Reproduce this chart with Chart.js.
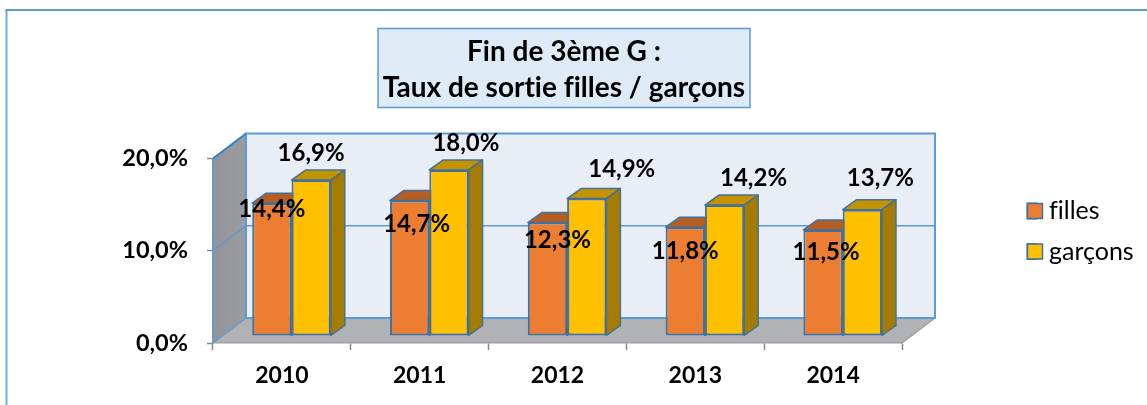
<!DOCTYPE html>
<html>
<head>
<meta charset="utf-8">
<style>
  html, body { margin: 0; padding: 0; background: #fff; }
  canvas { display: block; }
</style>
<script src="https://cdn.jsdelivr.net/npm/chart.js@4"></script>
</head>
<body>
<canvas id="chart" width="1147" height="405"></canvas>
<script>
const years = ["2010", "2011", "2012", "2013", "2014"];
const filles = [14.4, 14.7, 12.3, 11.8, 11.5];
const garcons = [16.9, 18.0, 14.9, 14.2, 13.7];
const yTicks = [0, 10, 20];
const titleLines = ["Fin de 3ème G :", "Taux de sortie filles / garçons"];

// label nudges from bar centre / bar top, the source chart had them hand placed
const fillesNudge = [[0, 6], [7, 24], [10, 18], [0, 24], [3, 22]];
const garconsNudge = [[0, -27], [17, -27], [35, -29], [29, -27], [18, -31]];

const FONT = "Lato, 'Open Sans', sans-serif";
const BLUE = "#5b9bd5";
const STROKE = "#41719c";
const wall = { dx: 33, dy: 25 };
const barShift = { dx: 9.6, dy: 7 };
const barDepth = { dx: 14, dy: 10 };
const faces = [
  { top: "#b55e24", side: "#a15a22" },
  { top: "#c49300", side: "#a67c00" },
];

const fmt = (v) => v.toFixed(1).replace(".", ",") + "%";

const poly = (ctx, pts, fill, stroke, lw) => {
  ctx.beginPath();
  pts.forEach((p, i) => (i ? ctx.lineTo(p[0], p[1]) : ctx.moveTo(p[0], p[1])));
  ctx.closePath();
  if (fill) {
    ctx.fillStyle = fill;
    ctx.fill();
  }
  if (stroke) {
    ctx.strokeStyle = stroke;
    ctx.lineWidth = lw || 1;
    ctx.stroke();
  }
};

const line = (ctx, x1, y1, x2, y2, color, lw) => {
  ctx.beginPath();
  ctx.moveTo(x1, y1);
  ctx.lineTo(x2, y2);
  ctx.strokeStyle = color;
  ctx.lineWidth = lw;
  ctx.stroke();
};

const scene3d = {
  id: "scene3d",
  beforeLayout(chart) {
    // keep the empty gap between plot and legend
    const legend = chart.legend;
    if (!legend._wideFit) {
      const fit = legend.fit;
      legend.fit = function () {
        fit.call(this);
        this.width = 245;
      };
      legend._wideFit = true;
    }
  },
  afterLayout(chart) {
    chart.legend.left = 1012;
    chart.legend.top = 166.75;
    chart.legend.bottom = 405 - 109.25;
    chart.titleBlock.right = 1128;
  },
  beforeDraw(chart) {
    const { ctx, chartArea: a, scales } = chart;
    const yTop = a.top;
    const yBot = a.bottom;
    const y10 = scales.y.getPixelForValue(10);
    ctx.textRendering = "optimizeSpeed";
    ctx.save();

    // frame, only top and left show in the crop
    line(ctx, 6.5, 405, 6.5, 10, "#6aaee6", 2);
    line(ctx, 5.5, 10, 1147, 10, BLUE, 2);

    // title box
    const tb = chart.titleBlock;
    const cx = tb.left + (tb.right - tb.left) / 2;
    ctx.fillStyle = "#deeaf6";
    ctx.fillRect(cx - 186, 28.5, 372, 79);
    ctx.strokeStyle = BLUE;
    ctx.lineWidth = 1.5;
    ctx.strokeRect(cx - 186, 28.5, 372, 79);

    // floor
    poly(ctx, [[a.left, yBot], [a.left + wall.dx, yBot - wall.dy], [a.right + wall.dx, yBot - wall.dy], [a.right, yBot]], "#b0b2b5");
    line(ctx, a.right, yBot, a.right + wall.dx, yBot - wall.dy, "#a0a0a0", 1.5);

    // side wall
    const g = ctx.createLinearGradient(a.left, 0, a.left + wall.dx, 0);
    g.addColorStop(0, "#939498");
    g.addColorStop(1, "#9b9c9f");
    poly(ctx, [[a.left, yTop], [a.left + wall.dx, yTop - wall.dy], [a.left + wall.dx, yBot - wall.dy], [a.left, yBot]], g);

    // back wall
    poly(ctx, [[a.left + wall.dx, yTop - wall.dy], [a.right + wall.dx, yTop - wall.dy], [a.right + wall.dx, yBot - wall.dy], [a.left + wall.dx, yBot - wall.dy]], "#e8edf6", BLUE, 2);

    // gridlines bent around the walls
    line(ctx, a.left, y10, a.left + wall.dx, y10 - wall.dy, BLUE, 1.5);
    line(ctx, a.left + wall.dx, y10 - wall.dy, a.right + wall.dx, y10 - wall.dy, BLUE, 1.5);
    line(ctx, a.left, yTop, a.left + wall.dx, yTop - wall.dy, "#2e84cc", 2);
    line(ctx, a.left, yBot, a.left + wall.dx, yBot - wall.dy, BLUE, 1.5);
    ctx.restore();
  },
  beforeDatasetsDraw(chart) {
    const { ctx } = chart;
    ctx.save();
    ctx.lineJoin = "round";
    // filles first so the garçons front hides their side face
    [0, 1].forEach((ds) => {
      const face = faces[ds];
      chart.getDatasetMeta(ds).data.forEach((bar) => {
        const half = bar.width / 2;
        const l = bar.x - half + barShift.dx;
        const r = bar.x + half + barShift.dx;
        const t = bar.y - barShift.dy;
        const b = bar.base - barShift.dy;
        poly(ctx, [[l, t], [r, t], [r + barDepth.dx, t - barDepth.dy], [l + barDepth.dx, t - barDepth.dy]], face.top, STROKE, 1.5);
        poly(ctx, [[r, t], [r + barDepth.dx, t - barDepth.dy], [r + barDepth.dx, b - barDepth.dy], [r, b]], face.side, STROKE, 1.5);
      });
    });
    ctx.translate(barShift.dx, -barShift.dy);
  },
  afterDatasetsDraw(chart) {
    const { ctx } = chart;
    ctx.restore();
    ctx.save();
    ctx.font = "bold 24px " + FONT;
    ctx.fillStyle = "#000";
    ctx.textAlign = "center";
    ctx.textBaseline = "middle";
    [fillesNudge, garconsNudge].forEach((nudge, ds) => {
      chart.getDatasetMeta(ds).data.forEach((bar, i) => {
        const value = chart.data.datasets[ds].data[i];
        ctx.fillText(fmt(value), bar.x + barShift.dx + nudge[i][0], bar.y - barShift.dy + nudge[i][1]);
      });
    });
    ctx.restore();
  },
  afterDraw(chart) {
    // legend swatches are wider than the box the text offset allows for
    const { ctx } = chart;
    const legend = chart.legend;
    const x = legend.left + legend.options.labels.padding;
    ctx.save();
    chart.data.datasets.forEach((d, i) => {
      const y = 203.5 + i * 40.5;
      ctx.fillStyle = d.backgroundColor;
      ctx.strokeStyle = d.borderColor;
      ctx.lineWidth = 1.5;
      ctx.fillRect(x, y, 15, 15);
      ctx.strokeRect(x, y, 15, 15);
    });
    ctx.restore();
  },
};

new Chart(document.getElementById("chart"), {
  type: "bar",
  data: {
    labels: years,
    datasets: [
      { label: "filles", data: filles, backgroundColor: "#ed7d31", borderColor: STROKE, borderWidth: 2, borderSkipped: false, clip: false },
      { label: "garçons", data: garcons, backgroundColor: "#ffc000", borderColor: STROKE, borderWidth: 2, borderSkipped: false, clip: false },
    ],
  },
  options: {
    responsive: false,
    animation: false,
    layout: { autoPadding: false, padding: 0 },
    categoryPercentage: 0.57,
    barPercentage: 1,
    plugins: {
      tooltip: { enabled: false },
      title: {
        display: true,
        text: titleLines,
        color: "#000",
        font: { family: FONT, size: 28, weight: "bold", lineHeight: 1.286 },
        padding: { top: 34, bottom: 52.5 },
      },
      legend: {
        position: "right",
        labels: {
          color: "#000",
          font: { family: FONT, size: 25 },
          boxWidth: 9,
          boxHeight: 15,
          padding: 15.5,
        },
      },
    },
    scales: {
      x: {
        afterFit: (s) => { s.height = 62; },
        grid: { drawOnChartArea: false, color: "#888", tickLength: 7, tickWidth: 1.5 },
        border: { color: "#a0a0a0", width: 1.5 },
        ticks: { color: "#000", font: { family: FONT, size: 23, weight: "bold" }, padding: 12, maxRotation: 0 },
      },
      y: {
        min: 0,
        max: 20,
        afterFit: (s) => { s.width = 213; },
        afterBuildTicks: (s) => { s.ticks = yTicks.map((v) => ({ value: v })); },
        grid: { drawOnChartArea: false, color: "#888", tickLength: 6, tickWidth: 1.5 },
        border: { color: BLUE, width: 1.5 },
        ticks: { color: "#000", font: { family: FONT, size: 23.5, weight: "bold" }, padding: 19, callback: (v) => fmt(v) },
      },
    },
  },
  plugins: [scene3d],
});
</script>
</body>
</html>
